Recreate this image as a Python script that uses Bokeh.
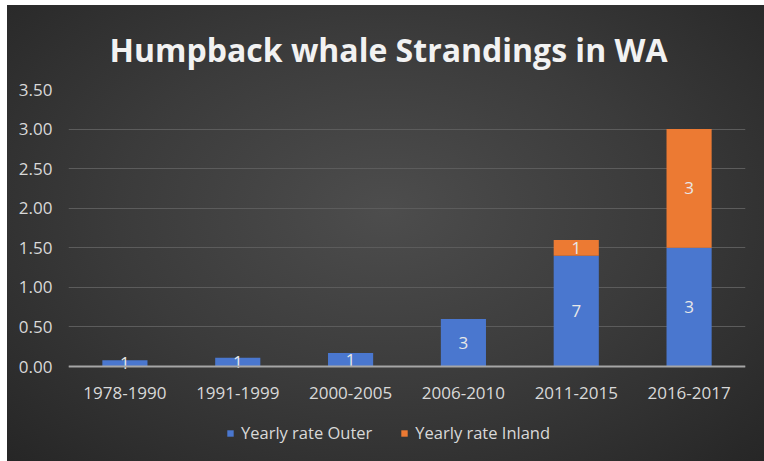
from bokeh.plotting import figure
from bokeh.models import (ColumnDataSource, Legend, LegendItem, FactorRange,
                          NumeralTickFormatter, Title, Range1d)
from bokeh.embed import file_html
from bokeh.resources import INLINE
from bokeh.core.properties import value

periods = ["1978-1990", "1991-1999", "2000-2005", "2006-2010", "2011-2015", "2016-2017"]
outer_rate = [0.08, 0.11, 0.17, 0.60, 1.40, 1.50]
inland_rate = [0.0, 0.0, 0.0, 0.0, 0.20, 1.50]
outer_count = ["1", "1", "1", "3", "7", "3"]
inland_count = ["", "", "", "", "1", "3"]
y_ticks = [0.0, 0.5, 1.0, 1.5, 2.0, 2.5, 3.0, 3.5]

BLUE = "#4a77cf"
ORANGE = "#ec7a33"
FONT = "Open Sans"

src = ColumnDataSource(dict(
    period=periods,
    outer=outer_rate,
    inland=inland_rate,
    outer_mid=[o / 2 for o in outer_rate],
    inland_mid=[o + i / 2 for o, i in zip(outer_rate, inland_rate)],
    outer_count=outer_count,
    inland_count=inland_count,
))

# frame extends below zero to hold the legend; the x axis sits at y=0
p = figure(x_range=FactorRange(*periods), y_range=Range1d(-1.137, 3.5),
           width=757, height=456, output_backend="svg", toolbar_location=None,
           min_border_left=61, min_border_right=19, min_border_top=84,
           min_border_bottom=5)

p.background_fill_alpha = 0
p.border_fill_alpha = 0
p.outline_line_color = None
p.styles = {
    "background": "radial-gradient(ellipse at 50% 45%, #4d4d4d 0%, #3b3b3b 50%, #262626 100%)",
    "margin-left": "7px",
    "margin-top": "5px",
}

rs = p.vbar_stack(["outer", "inland"], x="period", width=0.4,
                  color=[BLUE, ORANGE], line_color=None, source=src)

p.text(x="period", y="outer_mid", text="outer_count", source=src,
       text_align="center", text_baseline="middle", text_color="#e8e8e8",
       text_font=value(FONT), text_font_size="17px")
p.text(x="period", y="inland_mid", text="inland_count", source=src,
       text_align="center", text_baseline="middle", text_color="#e8e8e8",
       text_font=value(FONT), text_font_size="17px")

p.title = Title(text="Humpback whale Strandings in WA", align="left",
                text_font=FONT, text_font_size="32px", text_font_style="bold",
                text_color="#f2f2f2", offset=41, standoff=38)

p.xgrid.visible = False
p.ygrid.grid_line_color = "#5c5c5c"
p.ygrid.grid_line_width = 1
p.ygrid.ticker = y_ticks

p.yaxis.ticker = y_ticks
p.yaxis.formatter = NumeralTickFormatter(format="0.00")
p.yaxis.axis_line_color = None
p.yaxis.major_tick_line_color = None
p.yaxis.minor_tick_line_color = None
p.yaxis.major_label_text_color = "#d9d9d9"
p.yaxis.major_label_text_font = FONT
p.yaxis.major_label_text_font_size = "17px"
p.yaxis.major_label_standoff = 10

p.xaxis.fixed_location = 0
p.xaxis.axis_line_color = "#a6a6a6"
p.xaxis.axis_line_width = 2
p.xaxis.major_tick_line_color = None
p.xaxis.minor_tick_line_color = None
p.xaxis.major_label_text_color = "#d9d9d9"
p.xaxis.major_label_text_font = FONT
p.xaxis.major_label_text_font_size = "17px"
p.xaxis.major_label_standoff = 14

legend = Legend(items=[LegendItem(label="Yearly rate Outer", renderers=[rs[0]]),
                       LegendItem(label="Yearly rate Inland", renderers=[rs[1]])],
                orientation="horizontal", location=(158, 12),
                background_fill_alpha=0, border_line_color=None,
                label_text_color="#d9d9d9", label_text_font=FONT,
                label_text_font_size="16.5px", glyph_width=8, glyph_height=8,
                spacing=28, label_standoff=7, padding=4, margin=0)
p.add_layout(legend)

open("out.html", "w").write(file_html(p, INLINE))
